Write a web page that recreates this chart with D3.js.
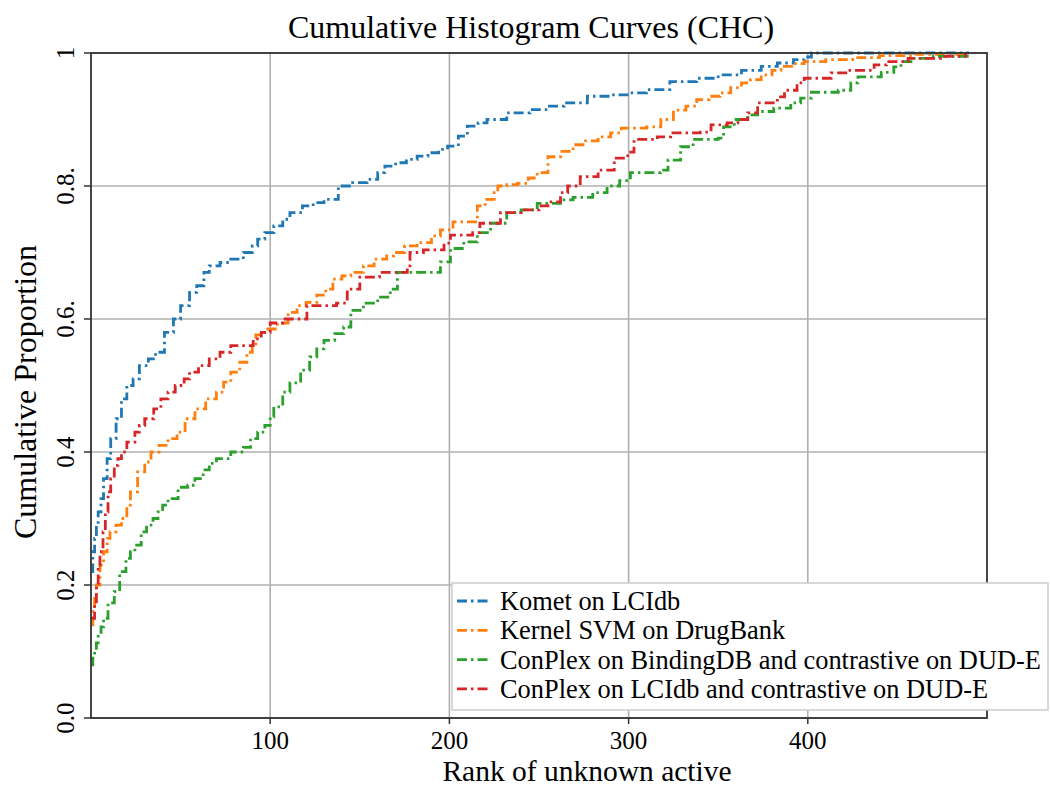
<!DOCTYPE html>
<html><head><meta charset="utf-8">
<script src="https://cdn.jsdelivr.net/npm/d3@7"></script>
<style>body{margin:0;background:#fff}text{font-family:"Liberation Serif","DejaVu Serif",serif;fill:#000}</style>
</head><body><svg id="c" width="1050" height="787"></svg>
<script>
const seriesNames = ["Komet on LCIdb","Kernel SVM on DrugBank","ConPlex on BindingDB and contrastive on DUD-E","ConPlex on LCIdb and contrastive on DUD-E"];
const seriesColors = ["#1f77b4","#ff7f0e","#2ca02c","#d62728"];
const xTicks = [100,200,300,400];
const yTicks = [0,0.2,0.4,0.6,0.8,1];
const yTickLabels = ["0.0","0.2","0.4","0.6.","0.8.","1"];

const komet = [[0,0.22],[1,0.25],[2,0.27],[3,0.29],[4,0.31],[5.6,0.33],[7,0.36],[9,0.39],[11,0.42],[14,0.45],[17,0.48],[20,0.50],[23.5,0.51],[27,0.53],[32,0.54],[36,0.55],[41,0.58],[46,0.60],[50,0.62],[55,0.64],[59,0.65],[63,0.67],[66,0.68],[72,0.685],[78,0.69],[85,0.70],[90,0.71],[93,0.72],[97,0.73],[102,0.74],[107,0.75],[111,0.76],[118,0.77],[124,0.775],[130,0.78],[138,0.80],[146,0.805],[154,0.81],[160,0.82],[164,0.83],[170,0.835],[176,0.84],[182,0.845],[188,0.85],[194,0.855],[199,0.86],[205,0.875],[210,0.89],[216,0.895],[221,0.90],[232,0.91],[245,0.915],[255,0.92],[264,0.925],[277,0.935],[290,0.937],[301,0.94],[310,0.945],[323,0.957],[338,0.962],[350,0.967],[363,0.974],[374,0.98],[383,0.985],[392,0.99],[398,0.994],[402,1.0],[490,1.0]];
const kernelSvm = [[0,0.14],[1,0.16],[2,0.18],[3,0.20],[5,0.23],[7,0.25],[9,0.27],[10.6,0.28],[14,0.29],[17,0.30],[20,0.32],[22,0.34],[26,0.37],[30,0.385],[33.5,0.40],[38,0.41],[43,0.42],[48,0.43],[52.5,0.45],[58,0.465],[64,0.48],[70,0.49],[74,0.505],[78,0.52],[83,0.535],[87,0.55],[90,0.56],[92,0.576],[97,0.585],[104,0.594],[110,0.61],[115,0.62],[120,0.625],[126,0.636],[131,0.645],[135,0.66],[140,0.665],[145,0.67],[152,0.68],[158,0.69],[165,0.695],[169,0.70],[175,0.71],[182,0.715],[190,0.725],[195,0.734],[202,0.746],[210,0.746],[215.6,0.77],[220,0.78],[225,0.79],[227,0.80],[232,0.802],[238,0.804],[244,0.812],[249,0.82],[255,0.844],[262,0.852],[269,0.862],[276,0.868],[283,0.874],[290,0.88],[296,0.887],[310,0.889],[318,0.90],[325,0.914],[332,0.92],[338,0.93],[345,0.935],[351,0.94],[357,0.948],[363,0.955],[368,0.96],[374,0.967],[380,0.974],[385,0.98],[392,0.984],[398,0.987],[410,0.99],[425,0.993],[440,0.996],[460,0.998],[490,1.0]];
const conplexBdb = [[0,0.08],[1,0.09],[2,0.10],[3,0.113],[4,0.125],[5.6,0.137],[7,0.15],[9.5,0.173],[13,0.19],[16,0.22],[19.5,0.24],[22,0.25],[24.5,0.26],[28,0.28],[31,0.29],[34.6,0.30],[37.4,0.31],[40,0.32],[43,0.33],[48.6,0.347],[54,0.35],[58,0.36],[62.6,0.373],[66,0.383],[70,0.39],[78,0.40],[85,0.407],[89,0.42],[93,0.43],[97,0.44],[100,0.453],[102,0.468],[107,0.49],[111,0.504],[117,0.523],[122,0.543],[126,0.555],[130,0.568],[136,0.578],[141,0.588],[145,0.613],[152,0.624],[160,0.633],[167,0.645],[171,0.67],[188,0.67],[195,0.686],[200.6,0.706],[208,0.716],[215.6,0.73],[223,0.744],[232,0.76],[240,0.764],[249,0.774],[262,0.779],[269,0.783],[280,0.79],[288,0.80],[295,0.808],[301,0.82],[318,0.824],[322,0.839],[329,0.859],[336,0.87],[350,0.872],[353,0.889],[359,0.90],[366.5,0.907],[372,0.912],[381,0.917],[390.5,0.925],[396,0.932],[402,0.941],[417,0.944],[424,0.955],[428,0.964],[441,0.971],[448,0.979],[452,0.987],[459,0.992],[470,0.995],[489,1.0]];
const conplexLci = [[0,0.15],[2,0.17],[3,0.20],[4,0.23],[5,0.25],[6.7,0.28],[8,0.31],[9.5,0.34],[11,0.36],[13,0.38],[15,0.39],[17,0.40],[20,0.415],[24.5,0.43],[27,0.44],[30,0.45],[35,0.465],[39,0.48],[43,0.49],[47,0.50],[52,0.51],[55,0.52],[60,0.53],[66,0.54],[72,0.55],[78,0.56],[90.5,0.57],[95,0.58],[100,0.594],[107,0.60],[120.5,0.62],[137,0.624],[143,0.645],[150,0.663],[161,0.67],[176.5,0.68],[178,0.70],[185.5,0.704],[197,0.714],[200.6,0.726],[213,0.73],[217,0.744],[221,0.744],[228.5,0.76],[240,0.764],[250,0.77],[255,0.776],[262,0.79],[266,0.80],[273,0.814],[283,0.824],[292,0.842],[299.5,0.851],[303,0.87],[316,0.874],[323.5,0.88],[340,0.881],[346,0.892],[355,0.895],[361,0.90],[366.5,0.91],[372,0.925],[383,0.934],[387,0.944],[394,0.955],[398,0.962],[413,0.97],[422,0.974],[437,0.982],[444,0.987],[456,0.992],[474,0.995],[488,1.0]];
const seriesData = [komet, kernelSvm, conplexBdb, conplexLci];

const svg = d3.select("#c");
const L=91, R=987, T=53, B=718;
const x = d3.scaleLinear().domain([0,500]).range([L,R]);
const y = d3.scaleLinear().domain([0,1]).range([B,T]);

// grid
svg.append("g").selectAll("line").data(xTicks).join("line")
  .attr("x1",d=>x(d)).attr("x2",d=>x(d)).attr("y1",T).attr("y2",B)
  .attr("stroke","#b0b0b0").attr("stroke-width",1.6);
svg.append("g").selectAll("line").data(yTicks).join("line")
  .attr("x1",L).attr("x2",R).attr("y1",d=>y(d)).attr("y2",d=>y(d))
  .attr("stroke","#b0b0b0").attr("stroke-width",1.6);

// lines
const line = d3.line().x(d=>x(d[0])).y(d=>y(d[1])).curve(d3.curveStepAfter);
const plot = svg.append("g");
seriesData.forEach((s,i)=>{
  plot.append("path").attr("d",line(s)).attr("fill","none")
    .attr("stroke",seriesColors[i]).attr("stroke-width",2.8)
    .attr("stroke-dasharray","10,4,2.5,4");
});

// spines
svg.append("rect").attr("x",L).attr("y",T).attr("width",R-L).attr("height",B-T)
  .attr("fill","none").attr("stroke","#333").attr("stroke-width",1.8);

// y ticks
const yg = svg.append("g");
yg.selectAll("line").data(yTicks).join("line")
  .attr("x1",L-7).attr("x2",L).attr("y1",d=>y(d)).attr("y2",d=>y(d))
  .attr("stroke","#333").attr("stroke-width",1.5);
yg.selectAll("text").data(yTicks).join("text")
  .attr("transform",d=>`translate(74,${y(d)}) rotate(-90)`)
  .attr("text-anchor","middle").attr("font-size",25)
  .text((d,i)=>yTickLabels[i]);

// x ticks
const xg = svg.append("g");
xg.selectAll("line").data(xTicks).join("line")
  .attr("x1",d=>x(d)).attr("x2",d=>x(d)).attr("y1",B).attr("y2",B+6)
  .attr("stroke","#333").attr("stroke-width",1.5);
xg.selectAll("text").data(xTicks).join("text")
  .attr("x",d=>x(d)).attr("y",748.5).attr("text-anchor","middle").attr("font-size",25)
  .text(d=>d);

// labels
svg.append("text").attr("x",531).attr("y",38).attr("text-anchor","middle").attr("font-size",32)
  .text("Cumulative Histogram Curves (CHC)");
svg.append("text").attr("x",587).attr("y",780.5).attr("text-anchor","middle").attr("font-size",29.5)
  .text("Rank of unknown active");
svg.append("text").attr("transform","translate(36,392) rotate(-90)").attr("text-anchor","middle").attr("font-size",32)
  .text("Cumulative Proportion");

// legend
const lg = svg.append("g");
lg.append("rect").attr("x",452).attr("y",583).attr("width",596).attr("height",127)
  .attr("fill","#fff").attr("stroke","#cccccc").attr("stroke-width",1.5);
seriesNames.forEach((n,i)=>{
  const yy = 601 + i*29.3;
  lg.append("line").attr("x1",457).attr("x2",490).attr("y1",yy).attr("y2",yy)
    .attr("stroke",seriesColors[i]).attr("stroke-width",2.8).attr("stroke-dasharray","10,4,2.5,4");
  lg.append("text").attr("x",500).attr("y",yy+9).attr("font-size",26.4).text(n);
});
</script></body></html>
